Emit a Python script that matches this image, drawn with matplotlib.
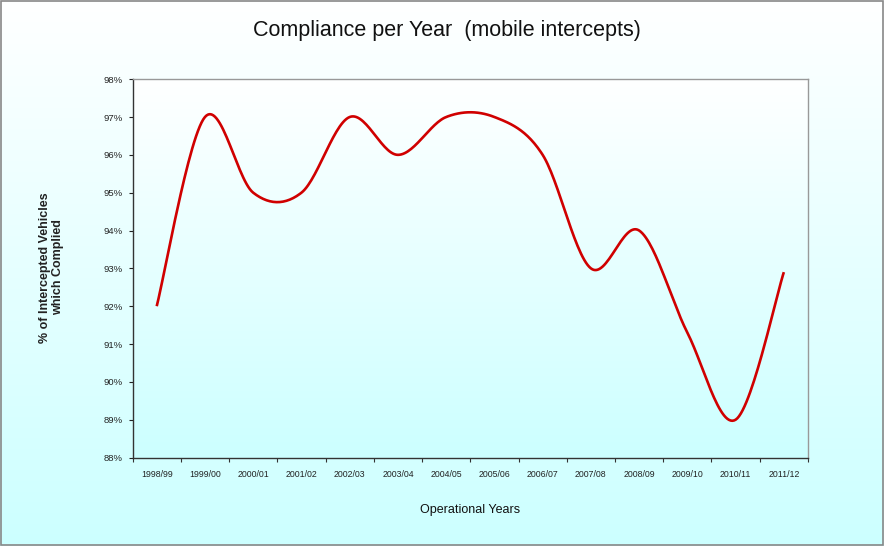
import numpy as np
import matplotlib
matplotlib.use('Agg')
import matplotlib.pyplot as plt
from matplotlib.colors import LinearSegmentedColormap
from matplotlib.ticker import FixedLocator, FuncFormatter

# Data
years = ['1998/99', '1999/00', '2000/01', '2001/02', '2002/03', '2003/04', '2004/05',
         '2005/06', '2006/07', '2007/08', '2008/09', '2009/10', '2010/11', '2011/12']
compliance = [92.0, 97.0, 95.0, 95.0, 97.0, 96.0, 97.0,
              97.0, 96.0, 93.0, 94.0, 91.3, 89.0, 92.9]

plt.rcParams['font.family'] = ['Liberation Sans', 'DejaVu Sans']


def smooth_line(xs, ys, steps=30):
    # Excel-style smoothed line (Catmull-Rom through each point)
    xs = np.asarray(xs, float)
    ys = np.asarray(ys, float)
    px = np.concatenate([[xs[0]], xs, [xs[-1]]])
    py = np.concatenate([[ys[0]], ys, [ys[-1]]])
    outx, outy = [], []
    t = np.linspace(0, 1, steps)
    for i in range(1, len(px) - 2):
        b0x, b0y = px[i], py[i]
        b3x, b3y = px[i + 1], py[i + 1]
        b1x = b0x + (px[i + 1] - px[i - 1]) / 6
        b1y = b0y + (py[i + 1] - py[i - 1]) / 6
        b2x = b3x - (px[i + 2] - px[i]) / 6
        b2y = b3y - (py[i + 2] - py[i]) / 6
        bx = (1 - t) ** 3 * b0x + 3 * (1 - t) ** 2 * t * b1x + 3 * (1 - t) * t ** 2 * b2x + t ** 3 * b3x
        by = (1 - t) ** 3 * b0y + 3 * (1 - t) ** 2 * t * b1y + 3 * (1 - t) * t ** 2 * b2y + t ** 3 * b3y
        outx.append(bx)
        outy.append(by)
    return np.concatenate(outx), np.concatenate(outy)


grad = LinearSegmentedColormap.from_list('bg', ['#ffffff', '#ccffff'])

fig = plt.figure(figsize=(8.84, 5.46), dpi=100)

# background gradient for the whole chart
bg = fig.add_axes([0, 0, 1, 1], zorder=-10)
bg.imshow(np.linspace(0, 1, 256).reshape(-1, 1), aspect='auto', cmap=grad,
          extent=[0, 1, 0, 1], origin='upper')
bg.set_axis_off()
bg.add_patch(plt.Rectangle((0.001, 0.001), 0.998, 0.998, fill=False,
                           edgecolor='#888888', lw=1.2, transform=bg.transAxes))

ax = fig.add_axes([0.150, 0.162, 0.764, 0.693])
ax.set_facecolor('none')
ax.imshow(np.linspace(0, 1, 256).reshape(-1, 1), aspect='auto', cmap=grad,
          extent=[0, len(years), 88, 98], origin='upper', zorder=0)

xpos = np.arange(len(years)) + 0.5
sx, sy = smooth_line(xpos, compliance)
ax.plot(sx, sy, color='#d00000', lw=1.9, zorder=3, solid_capstyle='butt')

ax.set_xlim(0, len(years))
ax.set_ylim(88, 98)
ax.xaxis.set_major_locator(FixedLocator(np.arange(len(years) + 1)))
ax.set_xticklabels([])
ax.set_xticks(xpos, labels=years, minor=True)
ax.tick_params(axis='x', which='minor', length=0, labelsize=6.3, pad=9, colors='#222222')
ax.tick_params(axis='x', which='major', length=3, direction='out', color='#333333')
ax.set_yticks(np.arange(88, 99, 1))
ax.yaxis.set_major_formatter(FuncFormatter(lambda v, p: '%d%%' % v))
ax.tick_params(axis='y', length=3, direction='out', labelsize=6.8, colors='#222222', pad=4)

for side in ['top', 'right']:
    ax.spines[side].set_color('#999999')
    ax.spines[side].set_linewidth(1.0)
for side in ['left', 'bottom']:
    ax.spines[side].set_color('#333333')
    ax.spines[side].set_linewidth(1.0)

fig.text(0.506, 0.945, 'Compliance per Year  (mobile intercepts)', ha='center', va='center',
         fontsize=15.5, color='#111111')
ax.set_xlabel('Operational Years', fontsize=9, labelpad=18, color='#111111')
fig.text(0.058, 0.51, '% of Intercepted Vehicles\nwhich Complied', ha='center', va='center',
         rotation=90, fontsize=9, fontweight='bold', color='#222222', linespacing=1.1)

fig.savefig('out.png', dpi=100)
